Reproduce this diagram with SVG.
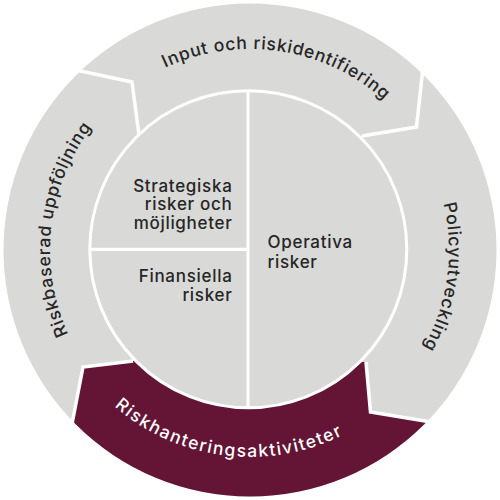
<svg xmlns="http://www.w3.org/2000/svg" xmlns:xlink="http://www.w3.org/1999/xlink" width="500" height="500" viewBox="0 0 500 500">
  <style>
    .seg { fill: #d9d9d8; }
    .sep { fill: none; stroke: #ffffff; stroke-width: 3.5; stroke-linejoin: miter; }
    .lbl { font-family: Inter, "Liberation Sans", sans-serif; font-size: 17px; font-weight: 500; fill: #262626; letter-spacing: 0.7px; }
    .arc { font-family: Inter, "Liberation Sans", sans-serif; font-size: 17.5px; font-weight: 500; fill: #262626; letter-spacing: 0.75px; }
    .arcw { fill: #ffffff; letter-spacing: 1.5px; }
  </style>
  <defs>
    <clipPath id="outerClip"><circle cx="250" cy="250" r="246.5"/></clipPath>
    <path id="pTop" d="M 51.2 220.3 A 201 201 0 0 1 448.8 279.7"/>
    <path id="pRight" d="M 277.7 52.9 A 199 199 0 0 1 222.3 447.1"/>
    <path id="pLeft" d="M 227.2 449.7 A 201 201 0 0 1 272.8 50.3"/>
    <path id="pBottom" d="M 44.5 224.8 A 207 207 0 0 0 455.5 275.2"/>
  </defs>

  <g id="ring">
    <circle class="seg" cx="250" cy="250" r="246.5"/>
  </g>

  <g id="node-riskhantering">
    <path d="M 133 361 L 83 367 L 65 462 L 65 510 L 470 510 L 470 428.4 L 370.5 412 L 366 362 Z" fill="#641535" clip-path="url(#outerClip)"/>
    <text class="arc arcw"><textPath xlink:href="#pBottom" href="#pBottom" startOffset="50%" text-anchor="middle">Riskhanteringsaktiviteter</textPath></text>
  </g>

  <g id="connectors">
    <polyline class="sep" points="78,70.5 132,82 139,135"/>
    <polyline class="sep" points="422.5,72 416.5,127 362,136"/>
    <polyline class="sep" points="366,362 370.5,412 428,421.5"/>
    <polyline class="sep" points="72,424 83,367 133,361"/>
  </g>

  <g id="node-input">
    <text class="arc"><textPath xlink:href="#pTop" href="#pTop" startOffset="50%" text-anchor="middle">Input och riskidentifiering</textPath></text>
  </g>
  <g id="node-policy">
    <text class="arc"><textPath xlink:href="#pRight" href="#pRight" startOffset="50%" text-anchor="middle">Policyutveckling</textPath></text>
  </g>
  <g id="node-uppfoljning">
    <text class="arc"><textPath xlink:href="#pLeft" href="#pLeft" startOffset="50%" text-anchor="middle">Riskbaserad uppföljning</textPath></text>
  </g>

  <g id="inner">
    <circle cx="248.3" cy="249.3" r="158.5" fill="#d9d9d8" stroke="#ffffff" stroke-width="3"/>
    <line x1="248" y1="90" x2="248" y2="409" stroke="#ffffff" stroke-width="3.2"/>
    <line x1="89" y1="249.3" x2="248" y2="249.3" stroke="#ffffff" stroke-width="3.2"/>
  </g>

  <g id="node-strategiska">
    <text class="lbl" text-anchor="end" x="232.5" y="191.5">Strategiska</text>
    <text class="lbl" text-anchor="end" x="232.5" y="210">risker och</text>
    <text class="lbl" text-anchor="end" x="232.5" y="228.5">möjligheter</text>
  </g>
  <g id="node-finansiella">
    <text class="lbl" text-anchor="end" x="232.5" y="282">Finansiella</text>
    <text class="lbl" text-anchor="end" x="232.5" y="300.5">risker</text>
  </g>
  <g id="node-operativa">
    <text class="lbl" x="267.5" y="247.5">Operativa</text>
    <text class="lbl" x="267.5" y="267.5">risker</text>
  </g>
</svg>
